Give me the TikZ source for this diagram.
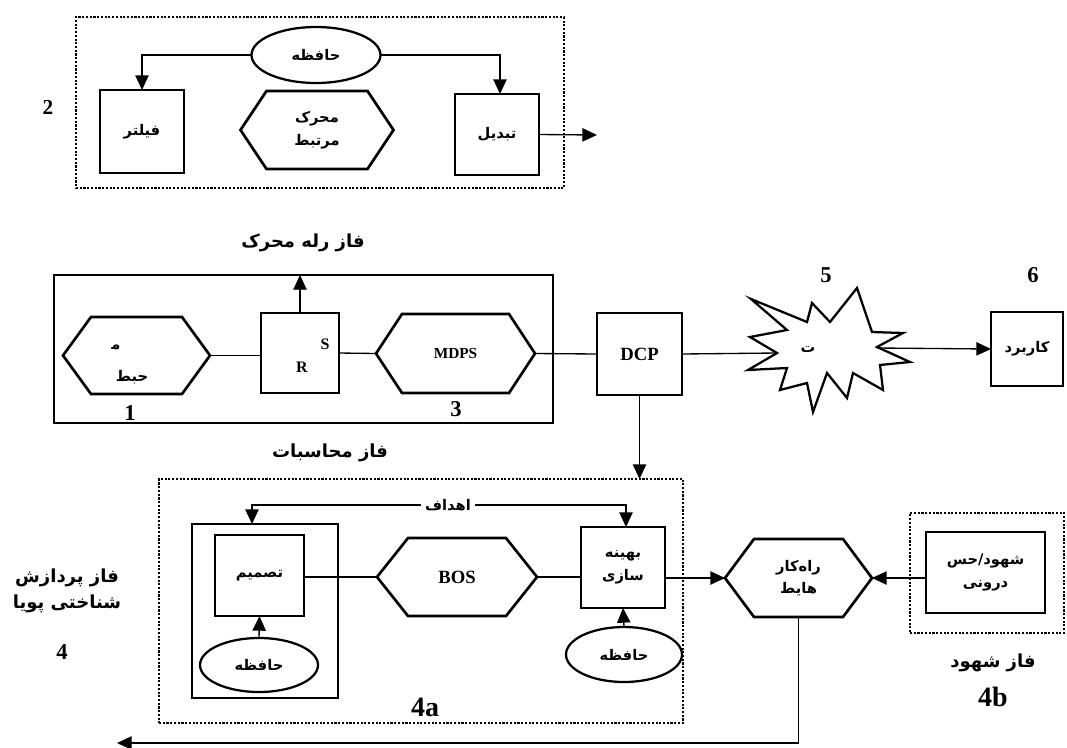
\documentclass[tikz,border=0pt]{standalone}
\usepackage{fontspec}
\setmainfont{Liberation Serif}
\newfontfamily\arabicfont[Script=Arabic]{DejaVu Sans}
\TeXXeTstate=1
\usetikzlibrary{arrows.meta,calc,shapes.geometric}
\newcommand\faText[1]{{\arabicfont\bfseries\beginR #1\endR}}
\newcommand\hexdraw[2]{\draw[hexline] (#1.west) -- ($(#1.north west)+(#2,0)$) -- ($(#1.north east)+(-#2,0)$) -- (#1.east) -- ($(#1.south east)+(-#2,0)$) -- ($(#1.south west)+(#2,0)$) -- cycle;}
\tikzset{
  conn/.style={line width=1pt},
  arr/.style={conn, -{Triangle[length=11pt,width=10pt]}},
  box/.style={draw, line width=2pt, inner sep=0pt, outer sep=0pt, align=center},
  ell/.style={draw, ellipse, line width=1.7pt, inner sep=0pt, outer sep=0pt},
  hexn/.style={inner sep=0pt, outer sep=0pt, align=center},
  hexline/.style={line width=2pt, line join=miter},
  dotbox/.style={draw, line width=1.8pt, dash pattern=on 1.6pt off 1.2pt, inner sep=0pt, outer sep=0pt},
  sz/.style 2 args={minimum width=#1*0.75pt, minimum height=#2*0.75pt},
  lbl/.style={inner sep=0pt, align=center, font=\fontsize{11}{17}\selectfont},
  ttl/.style={inner sep=0pt, align=center, font=\fontsize{13.5}{20}\selectfont},
  num/.style={inner sep=0pt, font=\fontsize{17}{18}\selectfont\bfseries},
  lat/.style={inner sep=0pt, font=\fontsize{12}{14}\selectfont\bfseries},
}
\begin{document}
\begin{tikzpicture}[x=0.75pt, y=-0.75pt]
\useasboundingbox (0,0) rectangle (1067,747);

% ---------- top group (2) ----------
\node[dotbox, sz={488}{171}] (box2) at (320,102.5) {};
\node[ell, sz={129}{56}, lbl] (mem1) at (316,55) {\faText{حافظه}};
\node[box, sz={84}{83}, lbl] (filter) at (142,131.5) {\faText{فیلتر}};
\node[hexn, sz={153}{78}, lbl] (engine) at (317,130) {\faText{محرک}\\\faText{مرتبط}};
\hexdraw{engine}{26}
\node[box, sz={84}{81}, lbl] (tabdil) at (497,134.5) {\faText{تبدیل}};
\coordinate (out2) at (597,135);
\draw[arr] (mem1.west) -| (filter.north);
\draw[arr] (mem1.east) -| ($(tabdil.north)+(3,0)$);
\draw[arr] (tabdil.east) -- (out2);
\node[num, font=\fontsize{16}{18}\selectfont\bfseries] (n2) at (48,107) {2};

% ---------- relay group ----------
\node[ttl] (tRelay) at (303,243) {\faText{فاز رله محرک}};
\node[box, sz={499}{148}] (relay) at (303.5,349) {};
\node[hexn, sz={147}{77}, lbl] (env) at (136.5,355.5) {};
\hexdraw{env}{28}
\node[lbl] (envA) at (116,347) {\faText{م^^^^200d}};
\node[lbl] (envB) at (132,377) {\faText{حبط}};
\node[box, sz={78}{80}] (rs) at (300,353) {};
\node[lat] (sS) at (325,344) {S};
\node[lat] (sR) at (302,367) {R};
\node[hexn, sz={159}{79}, font=\fontsize{11.5}{14}\selectfont\bfseries] (mdps) at (455.5,353.5) {MDPS};
\hexdraw{mdps}{26}
\node[num] (n1) at (130,413) {1};
\node[num] (n3) at (456,409) {3};
\node[ttl] (tComp) at (330,453) {\faText{فاز محاسبات}};
\draw[conn] (env.east) -- (env.east -| rs.west);
\draw[conn] (rs.east) -- (mdps.west);
\draw[arr] (rs.north) -- (rs.north |- relay.north);

% ---------- DCP, star, application ----------
\node[box, sz={85}{82}, font=\fontsize{14}{16}\selectfont\bfseries] (dcp) at (639.5,354) {DCP};
\draw[conn] (mdps.east) -- (dcp.west);
\coordinate (starW) at (777,353);
\coordinate (starE) at (877,348);
\draw[hexline, line width=1.7pt] (751,299) -- (807,322) -- (812,303) -- (830,322) -- (857,288) -- (872,332)
  -- (903,333) -- (877,347) -- (910,362) -- (880,365) -- (883,390) -- (853,373)
  -- (847,398) -- (827,373) -- (813,412) -- (807,383) -- (780,390) -- (787,368)
  -- (748,370) -- (777,353) -- (750,337) -- (787,330) -- cycle;
\node[lbl] (star) at (808,349) {\faText{ت}};
\node[box, sz={72}{74}, lbl] (app) at (1027,349) {\faText{کاربرد}};
\draw[conn] (dcp.east) -- (starW);
\draw[arr] (starE) -- (app.west);
\node[num] (n5) at (826,275) {5};
\node[num] (n6) at (1033,275) {6};

% ---------- group 4a ----------
\node[dotbox, sz={524}{244}] (box4a) at (421,601) {};
\draw[arr] (dcp.south) -- (dcp.south |- box4a.north);
\node[box, sz={146}{174}] (decbox) at (265,611) {};
\node[box, sz={89}{81}, lbl] (decide) at (259.5,575.5) {\faText{تصمیم}};
\node[ell, sz={118}{54}, lbl] (mem2) at (259,665) {\faText{حافظه}};
\draw[arr] (mem2.north) -- (decide.south);
\node[hexn, sz={160}{78}, font=\fontsize{14}{16}\selectfont\bfseries] (bos) at (457,577) {BOS};
\hexdraw{bos}{31}
\node[box, sz={84}{81}, lbl] (opt) at (623,567.5) {\faText{بهینه}\\\faText{سازی}};
\node[ell, sz={116}{55}, lbl] (mem3) at (624,654.5) {\faText{حافظه}};
\draw[arr] (mem3.north) -- (opt.south);
\draw[conn] (decide.east |- bos.west) -- (bos.west);
\draw[conn] (bos.east) -- (bos.east -| opt.west);
\node[lbl, inner sep=3pt] (goals) at (448,505) {\faText{اهداف}};
\draw[arr] (goals.west) -| ($(decbox.north)+(-13,0)$);
\draw[arr] (goals.east) -| ($(opt.north)+(3,0)$);
\node[num, font=\fontsize{21}{24}\selectfont\bfseries] (n4a) at (425,707) {4a};
\node[ttl] (tCog) at (67,591) {\faText{فاز پردازش}\\\faText{شناختی پویا}};
\node[num] (n4) at (62,652) {4};

% ---------- heuristic, intuition ----------
\node[hexn, sz={147}{78}, lbl] (heur) at (798.5,578) {\faText{راه^^^^200cکار}\\\faText{هایط}};
\hexdraw{heur}{29}
\draw[arr] (opt.east |- heur.west) -- (heur.west);
\node[dotbox, sz={154}{120}] (box4b) at (987,573) {};
\node[box, sz={119}{81}, lbl] (intu) at (985.5,572.5) {\faText{شهود/حس}\\\faText{درونی}};
\draw[arr] (intu.west |- heur.east) -- (heur.east);
\node[ttl] (tIntu) at (993,663) {\faText{فاز شهود}};
\node[num, font=\fontsize{21}{24}\selectfont\bfseries] (n4b) at (993,697) {4b};
\coordinate (fb) at (117,743);
\draw[arr] (heur.south) |- (fb);
\end{tikzpicture}
\end{document}
